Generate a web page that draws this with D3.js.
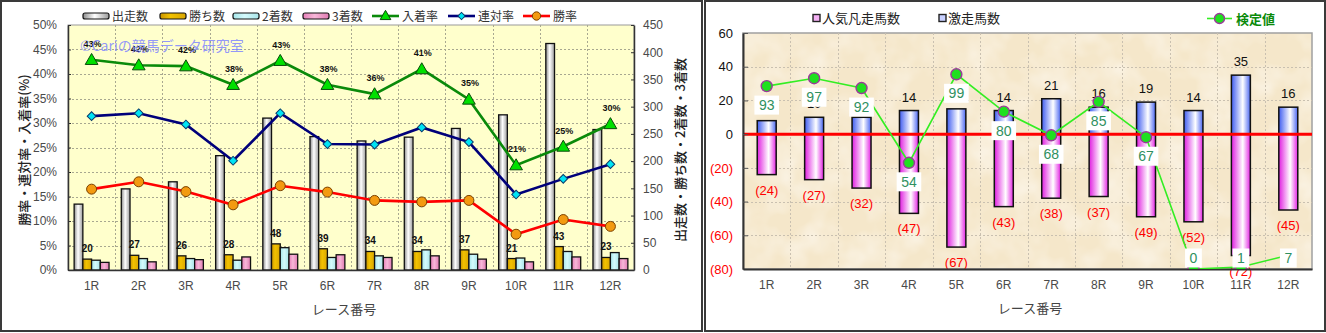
<!DOCTYPE html>
<html>
<head>
<meta charset="utf-8">
<script src="https://cdn.jsdelivr.net/npm/d3@7"></script>
<style>
  html, body { margin: 0; padding: 0; background: #fff; }
  svg { display: block; }
</style>
</head>
<body>
<div id="chart"></div>
<script>
// ---- data ---------------------------------------------------------------
const races = ["1R","2R","3R","4R","5R","6R","7R","8R","9R","10R","11R","12R"];

// counts per race (right axis of the left panel)
const starters = [121,149,162,210,279,245,237,244,260,285,416,258];   // 出走数
const wins     = [20,27,26,28,48,39,34,34,37,21,43,23];                // 勝ち数
const seconds  = [18,21,21,18,41,23,26,37,29,22,34,32];                // 2着数
const thirds   = [14,15,19,24,29,28,23,26,20,15,24,21];                // 3着数

// rates per race (left axis of the left panel)
const placeRate  = [0.429,0.418,0.416,0.378,0.427,0.378,0.359,0.410,0.348,0.214,0.252,0.298]; // 入着率
const rentaiRate = [0.314,0.320,0.297,0.223,0.320,0.257,0.256,0.291,0.261,0.154,0.186,0.216]; // 連対率
const winRate    = [0.165,0.180,0.160,0.133,0.172,0.159,0.142,0.139,0.142,0.073,0.103,0.089]; // 勝率

// right panel
const surgeCount   = [8,10,10,14,15,14,21,16,19,14,35,16];         // 激走馬数
const flopCount    = [24,27,32,47,67,43,38,37,49,52,72,45];        // 人気凡走馬数
const testValue    = [93,97,92,54,99,80,68,85,67,0,1,7];           // 検定値

const pctTicks   = [0,0.05,0.10,0.15,0.20,0.25,0.30,0.35,0.40,0.45,0.50];
const countTicks = [0,50,100,150,200,250,300,350,400,450];
const rightTicks = [-80,-60,-40,-20,0,20,40,60];

// ---- setup --------------------------------------------------------------
const FONT = "'Liberation Sans','Noto Sans CJK JP',sans-serif";
const W = 1326, H = 333;
const svg = d3.select("#chart").append("svg")
  .attr("width", W).attr("height", H)
  .style("font-family", FONT);

svg.append("rect").attr("width", W).attr("height", H).attr("fill", "#fff");

const defs = svg.append("defs");
function hGrad(id, stops) {
  const g = defs.append("linearGradient").attr("id", id)
    .attr("x1", "0%").attr("x2", "100%").attr("y1", "0%").attr("y2", "0%");
  stops.forEach(([o, c]) => g.append("stop").attr("offset", o).attr("stop-color", c));
}
hGrad("gStart",  [["0%","#8c8c8c"],["45%","#ffffff"],["100%","#9a9a9a"]]);
hGrad("gWin",    [["0%","#c89400"],["40%","#f2c200"],["100%","#d9a600"]]);
hGrad("gSecond", [["0%","#a6e6ea"],["45%","#d4fafc"],["100%","#a8e4e8"]]);
hGrad("gThird",  [["0%","#e67fb8"],["45%","#f7b7d8"],["100%","#e07ab2"]]);
hGrad("gSurge",  [["0%","#3f5cf0"],["60%","#ffffff"],["100%","#4a66f2"]]);
hGrad("gFlop",   [["0%","#e01ee0"],["60%","#ffffff"],["100%","#e424e4"]]);

// paper texture for the right plot
const paper = defs.append("filter").attr("id", "paper")
  .attr("x", 0).attr("y", 0).attr("width", "100%").attr("height", "100%");
paper.append("feTurbulence").attr("type", "fractalNoise")
  .attr("baseFrequency", "0.03").attr("numOctaves", 3).attr("seed", 7);
paper.append("feColorMatrix").attr("type", "matrix")
  .attr("values", "0 0 0 0 1  0 0 0 0 0.98  0 0 0 0 0.95  1.1 0 0 0 -0.42");

// panel frames
svg.append("rect").attr("x", 1).attr("y", 1).attr("width", 701).attr("height", 330)
  .attr("fill", "none").attr("stroke", "#3a3a3a").attr("stroke-width", 2);
svg.append("rect").attr("x", 705).attr("y", 1).attr("width", 620).attr("height", 330)
  .attr("fill", "none").attr("stroke", "#3a3a3a").attr("stroke-width", 2);

// =========================================================================
// Left panel: counts (bars) and rates (lines)
// =========================================================================
const L = { left: 68, right: 634, top: 25, bottom: 270 };
const countKeys = ["starters","wins","seconds","thirds"];
const countData = { starters, wins, seconds, thirds };
const countFill = { starters: "url(#gStart)", wins: "url(#gWin)", seconds: "url(#gSecond)", thirds: "url(#gThird)" };

const x0 = d3.scaleBand().domain(races).range([L.left, L.right]).paddingInner(0.26).paddingOuter(0.13);
const x1 = d3.scaleBand().domain(countKeys).range([0, x0.bandwidth()]);
const yPct = d3.scaleLinear().domain([0, 0.5]).range([L.bottom, L.top]);
const yCnt = d3.scaleLinear().domain([0, 450]).range([L.bottom, L.top]);
const cx0 = r => x0(r) + x0.bandwidth() / 2;

const left = svg.append("g");
left.append("rect").attr("x", L.left).attr("y", L.top)
  .attr("width", L.right - L.left).attr("height", L.bottom - L.top)
  .attr("fill", "#ffffcc").attr("stroke", "#9a9a9a");

// grid
const gridL = left.append("g").attr("stroke", "#a8a890").attr("stroke-dasharray", "2,2").attr("stroke-width", 1);
gridL.selectAll("line.h").data(pctTicks.slice(1, -1)).join("line")
  .attr("x1", L.left).attr("x2", L.right)
  .attr("y1", d => Math.round(yPct(d)) + 0.5).attr("y2", d => Math.round(yPct(d)) + 0.5);
gridL.selectAll("line.v").data(d3.range(1, races.length)).join("line")
  .attr("x1", i => Math.round(L.left + i * x0.step()) + 0.5)
  .attr("x2", i => Math.round(L.left + i * x0.step()) + 0.5)
  .attr("y1", L.top).attr("y2", L.bottom);

// bars
const groups = left.append("g").selectAll("g").data(races).join("g")
  .attr("transform", r => `translate(${x0(r)},0)`);
groups.selectAll("rect").data((r, i) => countKeys.map(k => ({ k, v: countData[k][i] })))
  .join("rect")
  .attr("x", d => x1(d.k)).attr("width", x1.bandwidth())
  .attr("y", d => yCnt(d.v)).attr("height", d => yCnt(0) - yCnt(d.v))
  .attr("fill", d => countFill[d.k])
  .attr("stroke", "#111").attr("stroke-width", 1.3);

// win-count labels above the win bars
left.append("g").selectAll("text").data(races).join("text")
  .attr("x", (r) => x0(r) + x1("wins") + x1.bandwidth() / 2)
  .attr("y", (r, i) => yCnt(wins[i]) - 7)
  .attr("text-anchor", "middle")
  .attr("font-size", 10).attr("font-weight", "bold").attr("fill", "#111")
  .text((r, i) => wins[i]);

// axes
const axL = left.append("g").attr("transform", `translate(${L.left},0)`)
  .call(d3.axisLeft(yPct).tickValues(pctTicks).tickFormat(d3.format(".0%")).tickSizeInner(-3).tickSizeOuter(0).tickPadding(11));
const axR = left.append("g").attr("transform", `translate(${L.right},0)`)
  .call(d3.axisRight(yCnt).tickValues(countTicks).tickSizeInner(-3).tickSizeOuter(0).tickPadding(9));
const axB = left.append("g").attr("transform", `translate(0,${L.bottom})`)
  .call(d3.axisBottom(x0).tickSize(0).tickPadding(11));
[axL, axR, axB].forEach(a => {
  a.select(".domain").attr("stroke", "#333").attr("stroke-width", 1.5);
  a.selectAll(".tick line").attr("stroke", "#333");
  a.selectAll("text").attr("font-family", FONT).attr("font-size", 12).attr("fill", "#4a4a4a");
});

// rate lines
const rateSeries = [
  { vals: placeRate,  line: "#0a8a0a", sym: d3.symbolTriangle, size: 70, fill: "#00e000", stroke: "#0a4a0a", rot: 0 },
  { vals: rentaiRate, line: "#00007a", sym: d3.symbolSquare,   size: 38, fill: "#00e4f4", stroke: "#0a3a6a", rot: 45 },
  { vals: winRate,    line: "#ff0000", sym: d3.symbolCircle,   size: 78, fill: "#f39a10", stroke: "#7a4000", rot: 0 }
];
const lineGen = d3.line().x((d, i) => cx0(races[i])).y(d => yPct(d));
rateSeries.forEach(s => {
  left.append("path").datum(s.vals).attr("d", lineGen)
    .attr("fill", "none").attr("stroke", s.line).attr("stroke-width", 2.6);
  left.append("g").selectAll("path").data(s.vals).join("path")
    .attr("d", d3.symbol(s.sym, s.size))
    .attr("transform", (d, i) => `translate(${cx0(races[i])},${yPct(d) + (s.sym === d3.symbolTriangle ? 1 : 0)}) rotate(${s.rot})`)
    .attr("fill", s.fill).attr("stroke", s.stroke).attr("stroke-width", 1);
});

// place-rate labels
left.append("g").selectAll("text").data(placeRate).join("text")
  .attr("x", (d, i) => cx0(races[i]) + 1)
  .attr("y", d => yPct(d) - 13)
  .attr("text-anchor", "middle")
  .attr("font-size", 9).attr("font-weight", "bold").attr("fill", "#111")
  .text(d => d3.format(".0%")(d));

// watermark
left.append("text").attr("x", 80).attr("y", 51)
  .attr("font-size", 14).attr("fill", "#7f86ff").attr("fill-opacity", 0.85)
  .attr("font-family", "'Noto Sans CJK JP',sans-serif")
  .text("©Cariの競馬データ研究室");

// axis titles
left.append("text")
  .attr("transform", `translate(29,150) rotate(-90)`)
  .attr("text-anchor", "middle").attr("font-size", 13).attr("fill", "#222")
  .attr("font-family", "'Noto Sans CJK JP',sans-serif").attr("font-weight", 500)
  .text("勝率・連対率・入着率(%)");
left.append("text")
  .attr("transform", `translate(685,150) rotate(-90)`)
  .attr("text-anchor", "middle").attr("font-size", 13).attr("fill", "#222")
  .attr("font-family", "'Noto Sans CJK JP',sans-serif").attr("font-weight", 500)
  .text("出走数・勝ち数・2着数・3着数");
left.append("text").attr("x", 344).attr("y", 314)
  .attr("text-anchor", "middle").attr("font-size", 13).attr("fill", "#444")
  .attr("font-family", "'Noto Sans CJK JP',sans-serif")
  .text("レース番号");

// legend
const legL = left.append("g").attr("font-size", 12).attr("fill", "#333")
  .attr("font-family", "'Noto Sans CJK JP',sans-serif");
const barLegend = [
  { x: 83,  label: "出走数", fill: "url(#gStart)" },
  { x: 160, label: "勝ち数", fill: "url(#gWin)" },
  { x: 233, label: "2着数", fill: "url(#gSecond)" },
  { x: 303, label: "3着数", fill: "url(#gThird)" }
];
barLegend.forEach(b => {
  legL.append("rect").attr("x", b.x).attr("y", 13).attr("width", 26).attr("height", 6).attr("rx", 2)
    .attr("fill", b.fill).attr("stroke", "#111").attr("stroke-width", 1.2);
  legL.append("text").attr("x", b.x + 29).attr("y", 20.5).text(b.label);
});
const lineLegend = [
  { x: 372, label: "入着率", s: rateSeries[0] },
  { x: 448, label: "連対率", s: rateSeries[1] },
  { x: 523, label: "勝率",   s: rateSeries[2] }
];
lineLegend.forEach(l => {
  legL.append("line").attr("x1", l.x).attr("x2", l.x + 27).attr("y1", 16).attr("y2", 16)
    .attr("stroke", l.s.line).attr("stroke-width", 2.6);
  legL.append("path").attr("d", d3.symbol(l.s.sym, l.s.size * 0.7))
    .attr("transform", `translate(${l.x + 13.5},${16 + (l.s.sym === d3.symbolTriangle ? 0.5 : 0)}) rotate(${l.s.rot})`)
    .attr("fill", l.s.fill).attr("stroke", l.s.stroke).attr("stroke-width", 1);
  legL.append("text").attr("x", l.x + 30).attr("y", 20.5).text(l.label);
});

// =========================================================================
// Right panel: surge / flop counts and test value
// =========================================================================
const R = { left: 743, right: 1312, top: 33, bottom: 269 };
const xr = d3.scaleBand().domain(races).range([R.left, R.right]).paddingInner(0.6).paddingOuter(0.3);
const yr = d3.scaleLinear().domain([-80, 60]).range([R.bottom, R.top]);
const yk = d3.scaleLinear().domain([0, 120]).range([R.bottom, R.top]);
const cxr = r => xr(r) + xr.bandwidth() / 2;

defs.append("clipPath").attr("id", "rightClip").append("rect")
  .attr("x", R.left).attr("y", R.top - 8).attr("width", R.right - R.left).attr("height", R.bottom - R.top + 8);

const right = svg.append("g");
right.append("rect").attr("x", R.left).attr("y", R.top)
  .attr("width", R.right - R.left).attr("height", R.bottom - R.top)
  .attr("fill", "#f5e7ca");
right.append("rect").attr("x", R.left).attr("y", R.top)
  .attr("width", R.right - R.left).attr("height", R.bottom - R.top)
  .attr("filter", "url(#paper)");
right.append("rect").attr("x", R.left).attr("y", R.top)
  .attr("width", R.right - R.left).attr("height", R.bottom - R.top)
  .attr("fill", "none").attr("stroke", "#a0a0a0").attr("stroke-width", 1.5);

const gridR = right.append("g").attr("stroke", "#c9c0b0").attr("stroke-dasharray", "2,2").attr("stroke-width", 1);
gridR.selectAll("line.h").data(rightTicks.filter(t => t !== 60 && t !== -80 && t !== 0)).join("line")
  .attr("x1", R.left).attr("x2", R.right)
  .attr("y1", d => Math.round(yr(d)) + 0.5).attr("y2", d => Math.round(yr(d)) + 0.5);
gridR.selectAll("line.v").data(d3.range(1, races.length)).join("line")
  .attr("x1", i => Math.round(R.left + i * xr.step()) + 0.5)
  .attr("x2", i => Math.round(R.left + i * xr.step()) + 0.5)
  .attr("y1", R.top).attr("y2", R.bottom);

// bars: flop counts below zero, surge counts above
right.append("g").selectAll("rect").data(flopCount).join("rect")
  .attr("x", (d, i) => xr(races[i])).attr("width", xr.bandwidth())
  .attr("y", yr(0)).attr("height", d => yr(-d) - yr(0))
  .attr("fill", "url(#gFlop)").attr("stroke", "#111").attr("stroke-width", 1.5);
right.append("g").selectAll("rect").data(surgeCount).join("rect")
  .attr("x", (d, i) => xr(races[i])).attr("width", xr.bandwidth())
  .attr("y", d => yr(d)).attr("height", d => yr(0) - yr(d))
  .attr("fill", "url(#gSurge)").attr("stroke", "#111").attr("stroke-width", 1.5);

// zero line
right.append("line").attr("x1", R.left).attr("x2", R.right)
  .attr("y1", yr(0)).attr("y2", yr(0)).attr("stroke", "#ff0000").attr("stroke-width", 3);

// bar value labels
right.append("g").selectAll("text").data(surgeCount).join("text")
  .attr("x", (d, i) => cxr(races[i])).attr("y", d => yr(d) - 9)
  .attr("text-anchor", "middle").attr("font-size", 13).attr("fill", "#111")
  .text(d => d);
right.append("g").selectAll("text").data(flopCount).join("text")
  .attr("x", (d, i) => cxr(races[i])).attr("y", d => yr(-d) + 20)
  .attr("text-anchor", "middle").attr("font-size", 13).attr("fill", "#ff0000")
  .text(d => `(${d})`);

// axes
const axRL = right.append("g").attr("transform", `translate(${R.left},0)`)
  .call(d3.axisLeft(yr).tickValues(rightTicks)
    .tickFormat(d => d < 0 ? `(${-d})` : d).tickSizeInner(-5).tickSizeOuter(0).tickPadding(10));
axRL.select(".domain").attr("stroke", "#333").attr("stroke-width", 2);
axRL.selectAll(".tick line").attr("stroke", "#555");
axRL.selectAll("text").attr("font-family", FONT).attr("font-size", 13)
  .attr("fill", d => d < 0 ? "#ff0000" : "#111");
const axRB = right.append("g").attr("transform", `translate(0,${R.bottom})`)
  .call(d3.axisBottom(xr).tickSize(0).tickPadding(11));
axRB.select(".domain").attr("stroke", "#333").attr("stroke-width", 2);
axRB.selectAll("text").attr("font-family", FONT).attr("font-size", 12).attr("fill", "#4a4a4a");

right.append("text").attr("x", 1030).attr("y", 313)
  .attr("text-anchor", "middle").attr("font-size", 13).attr("fill", "#444")
  .attr("font-family", "'Noto Sans CJK JP',sans-serif")
  .text("レース番号");

// test value line (clipped to the plot area)
const kGroup = right.append("g").attr("clip-path", "url(#rightClip)");
const kLine = d3.line().x((d, i) => cxr(races[i])).y(d => yk(d));
kGroup.append("path").datum(testValue).attr("d", kLine)
  .attr("fill", "none").attr("stroke", "#33ee22").attr("stroke-width", 1.6);
kGroup.append("g").selectAll("circle").data(testValue).join("circle")
  .attr("cx", (d, i) => cxr(races[i])).attr("cy", d => yk(d)).attr("r", 5.5)
  .attr("fill", "#1fe01f").attr("stroke", "#9a3a9a").attr("stroke-width", 1.4);

// test value labels in white boxes
const kLab = right.append("g").selectAll("g").data(testValue).join("g")
  .attr("transform", (d, i) => `translate(${cxr(races[i])},${Math.min(yk(d) + 19, R.bottom - 11)})`);
kLab.append("rect");
kLab.append("text").attr("text-anchor", "middle").attr("dy", "0.36em")
  .attr("font-size", 14).attr("fill", "#2f9060").text(d => d);
kLab.each(function () {
  const g = d3.select(this);
  const w = g.select("text").node().getComputedTextLength() + 9;
  g.select("rect").attr("x", -w / 2).attr("y", -9.5).attr("width", w).attr("height", 19).attr("fill", "#fff");
});

// legend
const legR = svg.append("g").attr("font-size", 13).attr("font-family", "'Noto Sans CJK JP',sans-serif");
legR.append("rect").attr("x", 813).attr("y", 14.5).attr("width", 7).attr("height", 7)
  .attr("fill", "#f4b0f4").attr("stroke", "#222").attr("stroke-width", 1.4);
legR.append("text").attr("x", 822).attr("y", 23).attr("fill", "#222").text("人気凡走馬数");
legR.append("rect").attr("x", 939).attr("y", 14.5).attr("width", 7).attr("height", 7)
  .attr("fill", "#c8d0ff").attr("stroke", "#222").attr("stroke-width", 1.4);
legR.append("text").attr("x", 948).attr("y", 23).attr("fill", "#222").text("激走馬数");
legR.append("line").attr("x1", 1207).attr("x2", 1232).attr("y1", 18.5).attr("y2", 18.5)
  .attr("stroke", "#33ee22").attr("stroke-width", 1.6);
legR.append("circle").attr("cx", 1219.5).attr("cy", 18.5).attr("r", 5)
  .attr("fill", "#1fe01f").attr("stroke", "#9a3a9a").attr("stroke-width", 1.4);
legR.append("text").attr("x", 1236).attr("y", 23.5).attr("fill", "#0a8a0a")
  .attr("font-weight", "bold").text("検定値");
</script>
</body>
</html>
